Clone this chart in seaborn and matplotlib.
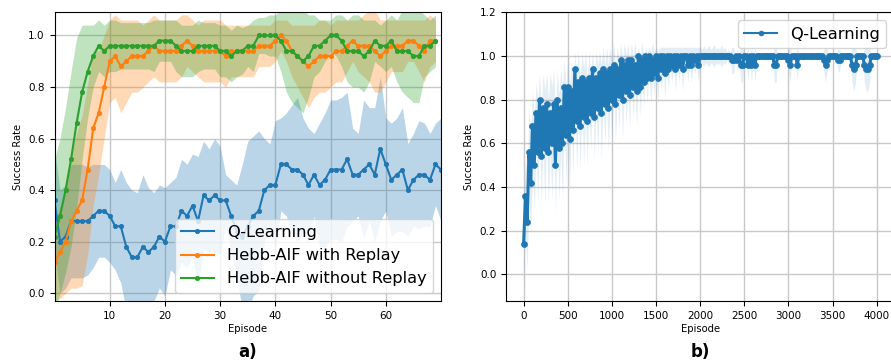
import numpy as np
import pandas as pd
import matplotlib
matplotlib.use("Agg")
import matplotlib.pyplot as plt
import seaborn as sns

# ---------------- Panel a) data ----------------
q_mean = [0.36, 0.20, 0.22, 0.28, 0.28, 0.28, 0.28, 0.30, 0.32, 0.32,
          0.30, 0.26, 0.26, 0.18, 0.14, 0.14, 0.18, 0.16, 0.18, 0.22,
          0.20, 0.26, 0.26, 0.32, 0.30, 0.34, 0.28, 0.38, 0.36, 0.38,
          0.36, 0.36, 0.30, 0.24, 0.22, 0.26, 0.30, 0.32, 0.40, 0.42,
          0.42, 0.50, 0.50, 0.48, 0.48, 0.46, 0.42, 0.46, 0.42, 0.44,
          0.48, 0.48, 0.48, 0.52, 0.46, 0.46, 0.48, 0.50, 0.46, 0.56,
          0.50, 0.44, 0.46, 0.48, 0.40, 0.44, 0.46, 0.46, 0.44, 0.50, 0.48]
q_std = [0.20, 0.20, 0.20, 0.22, 0.22, 0.22, 0.21, 0.20, 0.18, 0.18,
         0.18, 0.17, 0.22, 0.25, 0.26, 0.25, 0.28, 0.25, 0.21, 0.20,
         0.21, 0.17, 0.19, 0.20, 0.20, 0.20, 0.25, 0.21, 0.20, 0.22,
         0.21, 0.10, 0.14, 0.18, 0.28, 0.33, 0.31, 0.31, 0.20, 0.16,
         0.25, 0.18, 0.20, 0.25, 0.28, 0.22, 0.22, 0.16, 0.24, 0.26,
         0.27, 0.27, 0.28, 0.26, 0.18, 0.16, 0.27, 0.22, 0.26, 0.28,
         0.18, 0.22, 0.22, 0.24, 0.18, 0.18, 0.21, 0.20, 0.18, 0.16, 0.20]

rep_mean = [0.12, 0.16, 0.20, 0.28, 0.32, 0.36, 0.48, 0.64, 0.70, 0.80,
            0.90, 0.92, 0.88, 0.90, 0.92, 0.92, 0.92, 0.94, 0.96, 0.94,
            0.94, 0.94, 0.94, 0.96, 0.98, 0.96, 0.94, 0.94, 0.94, 0.94,
            0.94, 0.92, 0.94, 0.94, 0.94, 0.94, 0.94, 0.96, 0.96, 0.96,
            0.98, 1.00, 0.98, 0.94, 0.92, 0.90, 0.88, 0.90, 0.92, 0.92,
            0.92, 0.94, 0.94, 0.96, 0.98, 0.96, 0.96, 0.96, 0.94, 0.92,
            0.94, 0.96, 0.96, 0.96, 0.98, 0.98, 0.96, 0.94, 0.98, 0.98]
rep_std = [0.15, 0.18, 0.20, 0.26, 0.30, 0.33, 0.33, 0.30, 0.24, 0.20,
           0.16, 0.16, 0.18, 0.16, 0.14, 0.14, 0.12, 0.12, 0.12, 0.12,
           0.12, 0.12, 0.12, 0.12, 0.10, 0.10, 0.10, 0.12, 0.12, 0.12,
           0.12, 0.12, 0.10, 0.10, 0.10, 0.10, 0.10, 0.08, 0.08, 0.08,
           0.08, 0.06, 0.08, 0.10, 0.12, 0.14, 0.16, 0.14, 0.14, 0.14,
           0.12, 0.12, 0.12, 0.10, 0.08, 0.10, 0.12, 0.14, 0.16, 0.14,
           0.12, 0.10, 0.10, 0.10, 0.08, 0.08, 0.10, 0.12, 0.10, 0.08]

norep_mean = [0.22, 0.30, 0.40, 0.52, 0.66, 0.78, 0.86, 0.92, 0.96, 0.94,
              0.96, 0.96, 0.96, 0.96, 0.96, 0.96, 0.96, 0.96, 0.96, 0.98,
              0.98, 0.98, 0.96, 0.94, 0.94, 0.94, 0.96, 0.96, 0.96, 0.96,
              0.94, 0.94, 0.92, 0.94, 0.94, 0.96, 0.96, 1.00, 1.00, 1.00,
              1.00, 0.98, 0.94, 0.94, 0.92, 0.90, 0.92, 0.96, 0.96, 0.98,
              1.00, 1.00, 0.98, 0.94, 0.94, 0.94, 0.92, 0.94, 0.98, 0.96,
              0.96, 0.98, 0.94, 0.94, 0.94, 0.92, 0.92, 0.96, 0.96, 0.98]
norep_std = [0.30, 0.30, 0.32, 0.34, 0.33, 0.26, 0.18, 0.12, 0.10, 0.10,
             0.10, 0.10, 0.09, 0.09, 0.09, 0.09, 0.09, 0.09, 0.10, 0.08,
             0.08, 0.08, 0.10, 0.10, 0.10, 0.10, 0.10, 0.09, 0.09, 0.09,
             0.10, 0.10, 0.10, 0.10, 0.09, 0.08, 0.10, 0.07, 0.07, 0.08,
             0.08, 0.12, 0.16, 0.20, 0.20, 0.20, 0.16, 0.12, 0.10, 0.08,
             0.06, 0.08, 0.10, 0.12, 0.14, 0.14, 0.14, 0.12, 0.08, 0.08,
             0.10, 0.10, 0.12, 0.16, 0.18, 0.18, 0.18, 0.12, 0.10, 0.10]

labels_a = ["Q-Learning", "Hebb-AIF with Replay", "Hebb-AIF without Replay"]

# ---------------- Panel b) data (sampled every 20 episodes) ----------------
b_step = 20
b_mean = [
    0.14, 0.36, 0.24, 0.56, 0.42, 0.68, 0.50, 0.74, 0.56, 0.80,
    0.54, 0.76, 0.58, 0.78, 0.56, 0.74, 0.60, 0.78, 0.50, 0.80,
    0.58, 0.76, 0.60, 0.86, 0.64, 0.86, 0.62, 0.84, 0.66, 0.94,
    0.70, 0.88, 0.68, 0.90, 0.72, 0.88, 0.70, 0.90, 0.74, 0.94,
    0.72, 0.90, 0.76, 0.92, 0.74, 0.94, 0.78, 0.92, 0.76, 0.94,
    0.80, 0.96, 0.78, 0.94, 0.82, 0.98, 0.80, 0.96, 0.84, 0.98,
    0.82, 0.98, 0.86, 0.96, 0.84, 1.00, 0.86, 0.98, 0.88, 1.00,
    0.90, 1.00, 0.90, 0.98, 0.92, 1.00, 0.90, 1.00, 0.94, 1.00,
    0.92, 1.00, 0.94, 1.00, 0.96, 1.00, 0.94, 1.00, 0.96, 1.00,
    0.94, 1.00, 1.00, 0.96, 1.00, 0.96, 1.00, 0.98, 1.00, 0.96,
    1.00, 1.00, 1.00, 1.00, 1.00, 1.00, 1.00, 1.00, 1.00, 1.00,
    1.00, 1.00, 1.00, 1.00, 1.00, 1.00, 1.00, 1.00, 0.98, 0.98,
    1.00, 0.98, 1.00, 0.96, 0.96, 1.00, 1.00, 0.96, 1.00, 0.96,
    1.00, 0.96, 1.00, 1.00, 1.00, 1.00, 1.00, 1.00, 1.00, 1.00,
    1.00, 1.00, 0.96, 0.96, 1.00, 1.00, 1.00, 1.00, 1.00, 1.00,
    0.98, 0.96, 1.00, 1.00, 1.00, 0.96, 1.00, 1.00, 1.00, 1.00,
    1.00, 1.00, 1.00, 1.00, 1.00, 1.00, 1.00, 1.00, 1.00, 1.00,
    0.98, 0.96, 0.98, 1.00, 1.00, 1.00, 1.00, 1.00, 0.98, 0.98,
    1.00, 1.00, 1.00, 1.00, 1.00, 1.00, 0.96, 0.94, 0.96, 1.00,
    1.00, 1.00, 1.00, 0.96, 0.94, 0.94, 0.96, 1.00, 1.00, 1.00,
    1.00]
b_std = [
    0.20, 0.18, 0.22, 0.20, 0.24, 0.16, 0.22, 0.14, 0.24, 0.12,
    0.22, 0.16, 0.26, 0.14, 0.24, 0.18, 0.26, 0.16, 0.22, 0.14,
    0.24, 0.18, 0.26, 0.12, 0.22, 0.16, 0.24, 0.14, 0.20, 0.08,
    0.22, 0.14, 0.20, 0.12, 0.22, 0.14, 0.20, 0.12, 0.18, 0.08,
    0.20, 0.12, 0.20, 0.10, 0.22, 0.10, 0.18, 0.12, 0.20, 0.10,
    0.18, 0.10, 0.18, 0.10, 0.16, 0.08, 0.18, 0.10, 0.16, 0.08,
    0.16, 0.08, 0.14, 0.10, 0.16, 0.04, 0.14, 0.08, 0.12, 0.04,
    0.12, 0.04, 0.12, 0.08, 0.10, 0.04, 0.12, 0.04, 0.10, 0.04,
    0.12, 0.04, 0.10, 0.04, 0.08, 0.04, 0.10, 0.04, 0.08, 0.04,
    0.10, 0.04, 0.04, 0.08, 0.04, 0.08, 0.04, 0.06, 0.04, 0.08,
    0.04, 0.03, 0.05, 0.03, 0.04, 0.05, 0.03, 0.04, 0.05, 0.03,
    0.04, 0.03, 0.05, 0.03, 0.04, 0.02, 0.03, 0.02, 0.06, 0.06,
    0.00, 0.05, 0.00, 0.08, 0.08, 0.00, 0.00, 0.08, 0.00, 0.08,
    0.00, 0.08, 0.00, 0.00, 0.00, 0.00, 0.00, 0.00, 0.00, 0.00,
    0.00, 0.00, 0.08, 0.08, 0.00, 0.00, 0.00, 0.00, 0.00, 0.00,
    0.05, 0.08, 0.00, 0.00, 0.00, 0.08, 0.00, 0.00, 0.00, 0.00,
    0.00, 0.00, 0.00, 0.00, 0.00, 0.00, 0.00, 0.00, 0.00, 0.00,
    0.05, 0.08, 0.05, 0.00, 0.00, 0.00, 0.00, 0.00, 0.05, 0.05,
    0.00, 0.00, 0.00, 0.00, 0.00, 0.00, 0.08, 0.10, 0.08, 0.00,
    0.00, 0.00, 0.00, 0.08, 0.10, 0.10, 0.08, 0.00, 0.00, 0.00,
    0.00]

# ---------------- Figure ----------------
colors = ["#1f77b4", "#ff7f0e", "#2ca02c"]
plt.rcParams["font.family"] = ["DejaVu Sans"]

fig = plt.figure(figsize=(8.91, 3.62), dpi=100)
ax1 = fig.add_axes([54.5 / 891, 1 - 301 / 362, (441 - 54.5) / 891, (301 - 12.3) / 362])
ax2 = fig.add_axes([506 / 891, 1 - 301 / 362, (894.4 - 506) / 891, (301 - 12.3) / 362])

series_a = [(q_mean, q_std), (rep_mean, rep_std), (norep_mean, norep_std)]
for (m, s), lab, c in zip(series_a, labels_a, colors):
    m = np.asarray(m)
    s = np.asarray(s)
    ep = np.arange(len(m))
    ax1.fill_between(ep, m - s, m + s, color=c, alpha=0.3, linewidth=0)
    sns.lineplot(x=ep, y=m, ax=ax1, color=c, marker="o", markersize=3.2,
                 markeredgecolor=c, markeredgewidth=0.5, linewidth=1.5,
                 label=lab, errorbar=None, legend=False)

ax1.set_xlim(0, 70)
ax1.set_ylim(-0.03, 1.09)
ax1.set_xticks([10, 20, 30, 40, 50, 60])
ax1.set_yticks([0.0, 0.2, 0.4, 0.6, 0.8, 1.0])
ax1.grid(True, color="#c8c8c8", linewidth=1.0)
ax1.set_axisbelow(True)
ax1.set_xlabel("Episode", fontsize=7.2, labelpad=2)
ax1.set_ylabel("Success Rate", fontsize=7.2)
ax1.tick_params(labelsize=7.5)
ax1.legend(loc="lower right", fontsize=11.7, framealpha=0.8,
           handlelength=2.0)

bm = np.asarray(b_mean)
bs = np.asarray(b_std)
ep_b = np.arange(len(bm)) * b_step
ax2.fill_between(ep_b, bm - bs, bm + bs, color=colors[0], alpha=0.13, linewidth=0)
sns.lineplot(x=ep_b, y=bm, ax=ax2, color=colors[0], marker="o", markersize=4.3,
             markeredgecolor=colors[0], markeredgewidth=0.5, linewidth=2.2,
             label="Q-Learning", errorbar=None, legend=False)
ax2.set_xlim(-200, 4200)
ax2.set_ylim(-0.122, 1.2)
ax2.set_xticks(list(range(0, 4001, 500)))
ax2.set_yticks([0.0, 0.2, 0.4, 0.6, 0.8, 1.0, 1.2])
ax2.grid(True, color="#c8c8c8", linewidth=1.0)
ax2.set_axisbelow(True)
ax2.set_xlabel("Episode", fontsize=7.2, labelpad=2)
ax2.set_ylabel("Success Rate", fontsize=7.2)
ax2.tick_params(labelsize=7.5)
leg2 = ax2.legend(loc="upper right", fontsize=11.7, framealpha=0.8, handlelength=2.0)
for h in leg2.get_lines():
    h.set_linewidth(1.5)
    h.set_markersize(3.5)

fig.text(247.5 / 891, 1 - 352 / 362, "a)", ha="center", va="center",
         fontsize=12, fontweight="bold")
fig.text(700 / 891, 1 - 352 / 362, "b)", ha="center", va="center",
         fontsize=12, fontweight="bold")

fig.savefig("out.png", dpi=100)
